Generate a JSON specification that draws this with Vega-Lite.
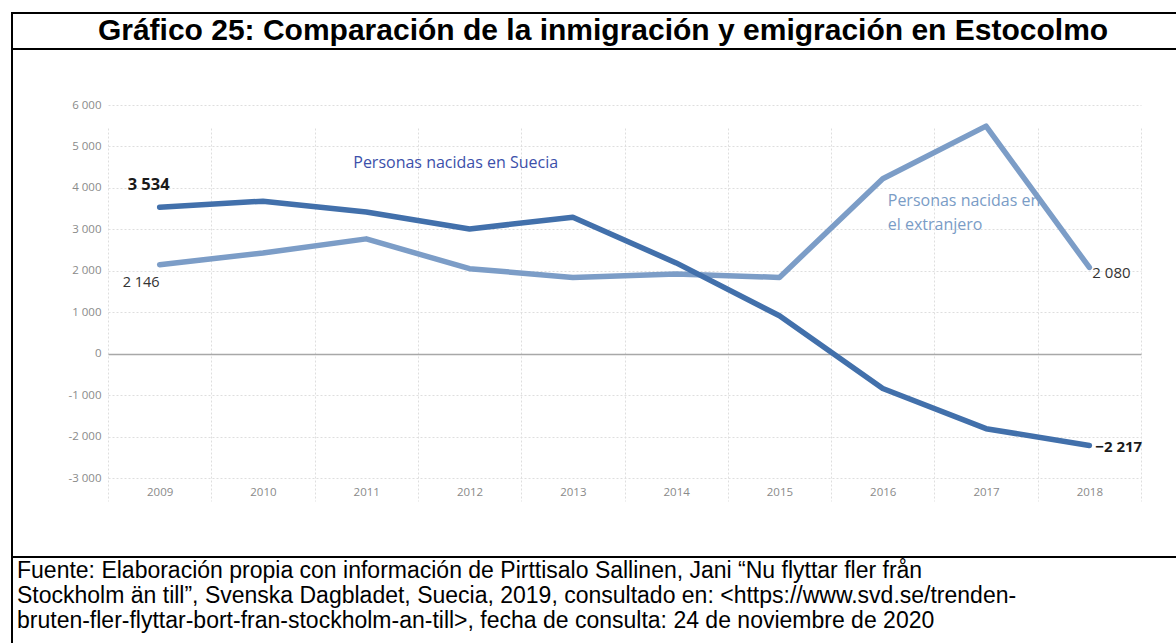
{
  "$schema": "https://vega.github.io/schema/vega-lite/v6.json",
  "padding": {"left": 11, "top": 12, "right": 0, "bottom": 0},
  "background": "white",
  "spacing": 0,
  "bounds": "flush",
  "config": {
    "locale": {"number": {"decimal": ",", "thousands": " ", "grouping": [3], "currency": ["", ""]}},
    "view": {"stroke": "black", "strokeWidth": 2},
    "text": {"font": "Open Sans"}
  },
  "datasets": {
    "flujos": [
      {"year": 2009, "serie": "Suecia", "value": 3534},
      {"year": 2010, "serie": "Suecia", "value": 3680},
      {"year": 2011, "serie": "Suecia", "value": 3420},
      {"year": 2012, "serie": "Suecia", "value": 3010},
      {"year": 2013, "serie": "Suecia", "value": 3290},
      {"year": 2014, "serie": "Suecia", "value": 2190},
      {"year": 2015, "serie": "Suecia", "value": 915},
      {"year": 2016, "serie": "Suecia", "value": -840},
      {"year": 2017, "serie": "Suecia", "value": -1810},
      {"year": 2018, "serie": "Suecia", "value": -2217},
      {"year": 2009, "serie": "Extranjero", "value": 2146},
      {"year": 2010, "serie": "Extranjero", "value": 2430},
      {"year": 2011, "serie": "Extranjero", "value": 2770},
      {"year": 2012, "serie": "Extranjero", "value": 2050},
      {"year": 2013, "serie": "Extranjero", "value": 1840},
      {"year": 2014, "serie": "Extranjero", "value": 1920},
      {"year": 2015, "serie": "Extranjero", "value": 1840},
      {"year": 2016, "serie": "Extranjero", "value": 4220},
      {"year": 2017, "serie": "Extranjero", "value": 5490},
      {"year": 2018, "serie": "Extranjero", "value": 2080}
    ],
    "rotulos": [
      {"year": 2011, "value": 4600, "serie": "Suecia", "label": "Personas nacidas en Suecia"},
      {"year": 2016, "value": 3870, "serie": "Extranjero", "label": "Personas nacidas en\nel extranjero"}
    ]
  },
  "vconcat": [
    {
      "width": 1170,
      "height": 36,
      "view": {"stroke": "black", "strokeWidth": 2},
      "data": {"values": [{"t": "Gráfico 25: Comparación de la inmigración y emigración en Estocolmo"}]},
      "mark": {"type": "text", "font": "Liberation Sans", "fontWeight": "bold", "fontSize": 30, "baseline": "middle", "dx": 6, "dy": 0, "color": "black"},
      "encoding": {
        "x": {"datum": 0.5, "type": "quantitative", "scale": {"domain": [0, 1]}, "axis": null},
        "text": {"field": "t", "type": "nominal"}
      }
    },
    {
      "width": 1170,
      "height": 508,
      "data": {"name": "flujos"},
      "encoding": {
        "x": {
          "field": "year",
          "type": "ordinal",
          "scale": {"type": "band", "domain": [2009, 2010, 2011, 2012, 2013, 2014, 2015, 2016, 2017, 2018], "range": [96, 1129], "paddingInner": 0, "paddingOuter": 0},
          "axis": {
            "title": null, "orient": "bottom", "offset": -79, "domain": false, "ticks": false, "tickSize": 0,
            "labelPadding": 8, "labelAngle": 0, "labelFont": "Open Sans", "labelFontSize": 11.5, "labelColor": "#8a8a8a",
            "grid": true, "gridColor": "#dedede", "gridDash": [2, 2], "gridWidth": 1, "tickBand": "extent"
          }
        },
        "y": {
          "field": "value",
          "type": "quantitative",
          "scale": {"domain": [-3000, 6000], "range": [429, 56], "nice": false, "zero": false},
          "axis": {
            "title": null, "orient": "left", "offset": -96, "domain": false, "ticks": false, "tickSize": 0,
            "labelPadding": 7, "values": [-3000, -2000, -1000, 0, 1000, 2000, 3000, 4000, 5000, 6000],
            "labelExpr": "replace(datum.label, '−', '-')",
            "format": ",d",
            "labelFont": "Open Sans", "labelFontSize": 11.5, "labelColor": "#8a8a8a",
            "grid": true,
            "gridColor": {"condition": {"test": "datum.value === 0", "value": "#a8a8a8"}, "value": "#dedede"},
            "gridDash": {"condition": {"test": "datum.value === 0", "value": []}, "value": [2, 2]},
            "gridWidth": {"condition": {"test": "datum.value === 0", "value": 1.6}, "value": 1}
          }
        }
      },
      "layer": [
        {
          "transform": [{"filter": "datum.serie === 'Extranjero'"}],
          "mark": {"type": "line", "color": "#7c9dc7", "strokeWidth": 5.5, "strokeJoin": "round", "strokeCap": "round"}
        },
        {
          "transform": [{"filter": "datum.serie === 'Suecia'"}],
          "mark": {"type": "line", "color": "#4270ab", "strokeWidth": 5.5, "strokeJoin": "round", "strokeCap": "round"}
        },
        {
          "transform": [{"filter": "datum.serie === 'Suecia' && datum.year === 2009"}],
          "mark": {"type": "text", "align": "left", "baseline": "middle", "dx": -32, "dy": -22, "fontSize": 16.5, "fontWeight": "bold", "color": "#1a1a1a"},
          "encoding": {"text": {"field": "value", "type": "quantitative", "format": ",d"}}
        },
        {
          "transform": [{"filter": "datum.serie === 'Extranjero' && datum.year === 2009"}],
          "mark": {"type": "text", "align": "left", "baseline": "middle", "dx": -37, "dy": 18, "fontSize": 14.5, "color": "#333333"},
          "encoding": {"text": {"field": "value", "type": "quantitative", "format": ",d"}}
        },
        {
          "transform": [{"filter": "datum.serie === 'Extranjero' && datum.year === 2018"}],
          "mark": {"type": "text", "align": "left", "baseline": "middle", "dx": 3, "dy": 6, "fontSize": 15, "color": "#333333"},
          "encoding": {"text": {"field": "value", "type": "quantitative", "format": ",d"}}
        },
        {
          "transform": [{"filter": "datum.serie === 'Suecia' && datum.year === 2018"}],
          "mark": {"type": "text", "align": "left", "baseline": "middle", "dx": 6, "dy": 1, "fontSize": 15, "fontWeight": "bold", "color": "#1a1a1a"},
          "encoding": {"text": {"field": "value", "type": "quantitative", "format": ",d"}}
        },
        {
          "data": {"name": "rotulos"},
          "transform": [{"filter": "datum.serie === 'Suecia'"}],
          "mark": {"type": "text", "align": "left", "baseline": "middle", "dx": -13, "fontSize": 16, "color": "#3c50aa"},
          "encoding": {"text": {"field": "label", "type": "nominal"}}
        },
        {
          "data": {"name": "rotulos"},
          "transform": [{"filter": "datum.serie === 'Extranjero'"}],
          "mark": {"type": "text", "align": "left", "baseline": "top", "dx": 5, "fontSize": 16, "lineHeight": 24, "lineBreak": "\n", "color": "#7a9cc6"},
          "encoding": {"text": {"field": "label", "type": "nominal"}}
        }
      ]
    },
    {
      "width": 1170,
      "height": 100,
      "view": {"stroke": "black", "strokeWidth": 2},
      "data": {"values": [{"t": ""}]},
      "mark": {"type": "text"},
      "encoding": {
        "x": {"datum": 0.5, "type": "quantitative", "scale": {"domain": [0, 1]}, "axis": null},
        "text": {"field": "t", "type": "nominal"}
      },
      "title": {
        "text": [
          "Fuente: Elaboración propia con información de  Pirttisalo Sallinen, Jani “Nu flyttar fler från",
          "Stockholm än till”, Svenska Dagbladet, Suecia, 2019, consultado en: <https://www.svd.se/trenden-",
          "bruten-fler-flyttar-bort-fran-stockholm-an-till>, fecha de consulta: 24 de noviembre de 2020"
        ],
        "orient": "top",
        "anchor": "start",
        "frame": "group",
        "offset": -76,
        "dx": 5,
        "font": "Liberation Sans",
        "fontSize": 23,
        "fontWeight": "normal",
        "color": "black",
        "lineHeight": 25
      }
    }
  ]
}
